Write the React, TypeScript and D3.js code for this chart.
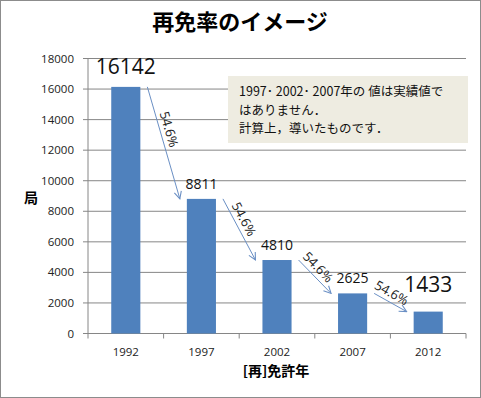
import * as d3 from 'd3';

const years = ['1992', '1997', '2002', '2007', '2012'];
const counts = [16142, 8811, 4810, 2625, 1433];
const rateLabel = '54.6%';
const yTicks = [0, 2000, 4000, 6000, 8000, 10000, 12000, 14000, 16000, 18000];
const noteLines = ['1997･ 2002･ 2007年の 値は実績値で', 'はありません．', '計算上，導いたものです．'];

const W = 481;
const H = 398;
const LATIN = '"Open Sans", "Noto Sans CJK JP", sans-serif';
const CJK = '"Noto Sans CJK JP", "Open Sans", sans-serif';
const BAR = '#4f81bd';
const GRID = '#868686';
const ARROW = '#6a8fc4';

export default function App() {
  const x = d3.scaleBand<string>().domain(years).range([88, 466]).padding(0);
  const y = d3.scaleLinear().domain([0, 18000]).range([333.5, 58.5]);
  const bw = x.bandwidth() * 0.385;
  const cx = (i: number) => (x(years[i]) ?? 0) + x.bandwidth() / 2;
  const last = counts.length - 1;

  // arrows between neighbouring bar tops, label set beside each arrow
  const arrows = d3.pairs(counts.map((v, i) => ({ v, i }))).map(([a, b]) => {
    const x1 = cx(a.i) + bw / 2 + 7;
    const y1 = y(a.v);
    const x2 = cx(b.i) - bw / 2 - 7;
    const y2 = y(b.v);
    const ang = Math.atan2(y2 - y1, x2 - x1);
    const t = 0.4;
    const lx = x1 + (x2 - x1) * t + Math.sin(ang) * 9;
    const ly = y1 + (y2 - y1) * t - Math.cos(ang) * 9;
    return { x1, y1, x2, y2, deg: (ang * 180) / Math.PI, lx, ly };
  });

  return (
    <svg width={W} height={H} style={{ position: 'absolute', left: 0, top: 0, display: 'block' }}>
      <defs>
        <marker id="arr" viewBox="0 0 10 10" refX="9" refY="5" markerWidth="9" markerHeight="9" orient="auto" markerUnits="userSpaceOnUse">
          <path d="M1,1 L9,5 L1,9" fill="none" stroke={ARROW} strokeWidth={1.2} />
        </marker>
      </defs>
      <rect x={0.5} y={0.5} width={W - 1} height={H - 1} fill="#fff" stroke="#8c8c8c" />
      <text x={240} y={30} textAnchor="middle" fontFamily={CJK} fontWeight={700} fontSize={22}>再免率のイメージ</text>

      {yTicks.map((t) => (
        <g key={t}>
          <line x1={83} x2={466} y1={y(t)} y2={y(t)} stroke={GRID} strokeWidth={1} />
          <text x={74} y={y(t)} dy="0.35em" textAnchor="end" fontFamily={LATIN} fontSize={11.5} fill="#222">{t}</text>
        </g>
      ))}
      <line x1={88} x2={88} y1={y(18000)} y2={y(0)} stroke={GRID} />
      {years.map((yr) => (
        <line key={'t' + yr} x1={x(yr)} x2={x(yr)} y1={y(0)} y2={y(0) + 5} stroke={GRID} />
      ))}
      <line x1={466} x2={466} y1={y(0)} y2={y(0) + 5} stroke={GRID} />

      {counts.map((v, i) => (
        <rect key={years[i]} x={cx(i) - bw / 2} y={y(v)} width={bw} height={y(0) - y(v)} fill={BAR} />
      ))}

      {counts.map((v, i) => {
        const big = i === 0 || i === last;
        return (
          <text key={'l' + i} x={cx(i)} y={y(v) - (big ? (i === 0 ? 20 : 27) : 15)} dy="0.35em" textAnchor="middle"
            fontFamily={LATIN} fontSize={big ? 21 : 14} fill="#111">{v}</text>
        );
      })}

      {years.map((yr, i) => (
        <text key={'x' + yr} x={cx(i)} y={352} dy="0.35em" textAnchor="middle" fontFamily={LATIN} fontSize={11.5} fill="#222">{yr}</text>
      ))}
      <text x={276} y={371} dy="0.35em" textAnchor="middle" fontFamily={CJK} fontWeight={700} fontSize={14}>[再]免許年</text>
      <text x={31} y={198} dy="0.35em" textAnchor="middle" fontFamily={CJK} fontWeight={700} fontSize={14}>局</text>

      {arrows.map((a, i) => (
        <g key={'a' + i}>
          <line x1={a.x1} y1={a.y1} x2={a.x2} y2={a.y2} stroke={ARROW} strokeWidth={1} markerEnd="url(#arr)" />
          <text transform={`translate(${a.lx},${a.ly}) rotate(${a.deg})`} dy="0.35em" textAnchor="middle"
            fontFamily={LATIN} fontSize={13} fill="#222">{rateLabel}</text>
        </g>
      ))}

      <rect x={228} y={76} width={240} height={67} fill="#eeece1" />
      {noteLines.map((s, i) => (
        <text key={'n' + i} x={239} y={92 + i * 18.5} dy="0.35em" fontFamily={CJK} fontSize={12.5} fill="#111">{s}</text>
      ))}
    </svg>
  );
}
